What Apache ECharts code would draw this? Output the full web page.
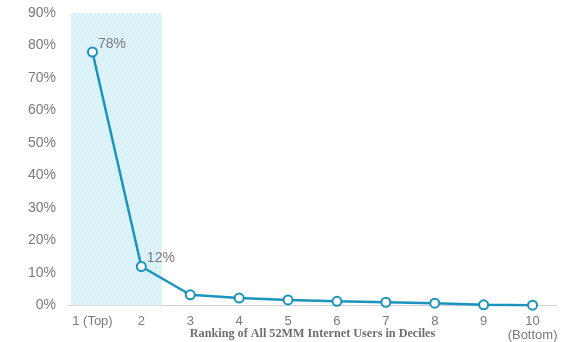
<!DOCTYPE html>
<html><head><meta charset="utf-8">
<script src="https://cdn.jsdelivr.net/npm/echarts@6/dist/echarts.min.js"></script>
<style>html,body{margin:0;padding:0;background:#fff}#c{width:577px;height:342px}</style>
</head><body><div id="c"></div>
<script>
const categories = ['1 (Top)', '2', '3', '4', '5', '6', '7', '8', '9', '10\n(Bottom)'];
const shares = [78, 12, 3.3, 2.3, 1.7, 1.3, 1.0, 0.7, 0.2, 0.1];
const labeledPoints = [0, 1];
const yTicks = [0, 10, 20, 30, 40, 50, 60, 70, 80, 90];

const pat = document.createElement('canvas');
pat.width = 4; pat.height = 4;
const pc = pat.getContext('2d');
pc.fillStyle = '#d6f0f9'; pc.fillRect(0, 0, 4, 4);
pc.strokeStyle = 'rgba(255,255,255,0.6)'; pc.lineWidth = 1;
pc.beginPath(); pc.moveTo(0, 4); pc.lineTo(4, 0); pc.stroke();

const chart = echarts.init(document.getElementById('c'));
chart.setOption({
  animation: false,
  grid: { left: 68, right: 20, top: 13, bottom: 36.5, outerBoundsMode: 'none', containLabel: false },
  xAxis: [{
    type: 'category', data: categories, boundaryGap: true,
    axisLine: { lineStyle: { color: '#d4d0d0', width: 1 } },
    axisTick: { show: false },
    axisLabel: { interval: 0, color: '#7a7a7a', fontSize: 13, fontFamily: 'Liberation Sans, Arial', margin: 9, lineHeight: 14 },
    name: 'Ranking of All 52MM Internet Users in Deciles',
    nameLocation: 'middle', nameGap: 22, nameMoveOverlap: false,
    nameTextStyle: { color: '#6f6f6f', fontSize: 12.2, fontFamily: 'Liberation Serif', fontWeight: 'bold' }
  }, {
    type: 'value', min: 0, max: 10, show: false
  }],
  yAxis: {
    type: 'value', min: 0, max: 90, interval: 10,
    splitLine: { show: false },
    axisLine: { show: false }, axisTick: { show: false },
    axisLabel: { color: '#7a7a7a', fontSize: 14, fontFamily: 'Liberation Sans, Arial', margin: 12,
      formatter: v => yTicks.includes(v) ? v + '%' : '' }
  },
  series: [{
    type: 'line', xAxisIndex: 1, data: [], silent: true,
    markArea: {
      silent: true,
      itemStyle: { color: { image: pat, repeat: 'repeat' } },
      data: [[{ xAxis: 0.06, yAxis: 0 }, { xAxis: 1.92, yAxis: 90 }]]
    }
  }, {
    type: 'line', data: shares.map((v, i) => ({
      value: v,
      label: { show: labeledPoints.includes(i) }
    })),
    symbol: 'emptyCircle', symbolSize: 9,
    lineStyle: { color: '#1a94bd', width: 2.5 },
    itemStyle: { color: '#1a94bd', borderWidth: 2.5 },
    label: { position: 'right', offset: [-5, -8], color: '#7a7a7a', fontSize: 14,
      fontFamily: 'Liberation Sans, Arial', formatter: p => Math.round(p.value) + '%' },
    z: 5
  }]
});
</script></body></html>
